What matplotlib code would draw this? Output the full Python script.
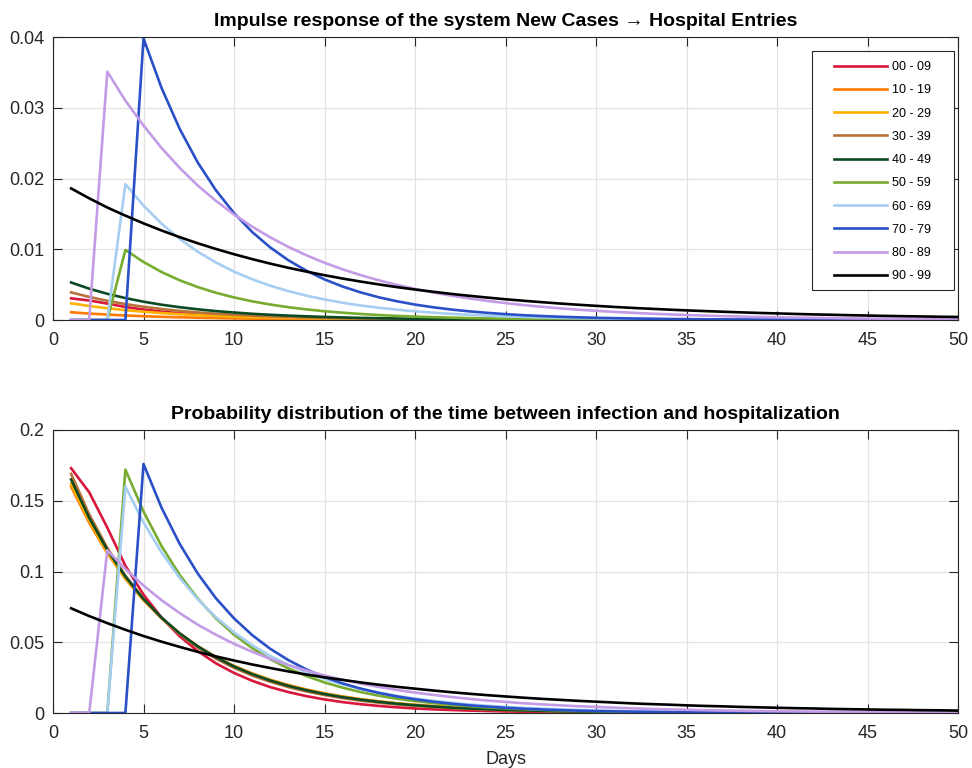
import matplotlib
matplotlib.use("Agg")
import matplotlib.pyplot as plt
from matplotlib.ticker import FuncFormatter, MultipleLocator
from matplotlib.patches import Rectangle

# ---------------- data ----------------
days = list(range(1, 51))
age_groups = ["00 - 09", "10 - 19", "20 - 29", "30 - 39", "40 - 49",
              "50 - 59", "60 - 69", "70 - 79", "80 - 89", "90 - 99"]

# Probability distribution of time between infection and hospitalization (bottom)
prob_00_09 = [0.173, 0.156, 0.131, 0.104, 0.0837, 0.0674, 0.0542, 0.0437, 0.0351, 0.0283,
              0.0228, 0.0183, 0.0148, 0.0119, 0.0096, 0.0077, 0.0062, 0.0050, 0.0040, 0.0032,
              0.0026, 0.0021, 0.0017, 0.0014, 0.0011, 0.0009, 0.0007, 0.0006, 0.00047, 0.00038,
              0.00031, 0.00025, 0.0002, 0.00016, 0.00013, 0.0001, 0.00008, 0.00007, 0.00005, 0.00004,
              0.00004, 0.00003, 0.00002, 0.00002, 0.00002, 0.00001, 0.00001, 0.00001, 0.00001, 0.00001]
prob_10_19 = [0.160, 0.1344, 0.1129, 0.0948, 0.0797, 0.0669, 0.0562, 0.0472, 0.0397, 0.0333,
              0.0280, 0.0235, 0.0198, 0.0166, 0.0139, 0.0117, 0.0098, 0.0083, 0.0069, 0.0058,
              0.0049, 0.0041, 0.00345, 0.0029, 0.00244, 0.00205, 0.00172, 0.00144, 0.00121, 0.00102,
              0.00086, 0.00072, 0.0006, 0.00051, 0.00043, 0.00036, 0.0003, 0.00025, 0.00021, 0.00018,
              0.00015, 0.00013, 0.00011, 0.00009, 0.00008, 0.00006, 0.00005, 0.00005, 0.00004, 0.00003]
prob_20_29 = [0.162, 0.1358, 0.1138, 0.0953, 0.0799, 0.0670, 0.0561, 0.0470, 0.0394, 0.0330,
              0.0277, 0.0232, 0.0194, 0.0163, 0.0136, 0.0114, 0.0096, 0.0080, 0.0067, 0.0056,
              0.0047, 0.0040, 0.0033, 0.0028, 0.0023, 0.00195, 0.00164, 0.00137, 0.00115, 0.00096,
              0.00081, 0.00068, 0.00057, 0.00047, 0.0004, 0.00033, 0.00028, 0.00023, 0.0002, 0.00016,
              0.00014, 0.00012, 0.0001, 0.00008, 0.00007, 0.00006, 0.00005, 0.00004, 0.00003, 0.00003]
prob_30_39 = [0.169, 0.1404, 0.1167, 0.0970, 0.0806, 0.0670, 0.0557, 0.0463, 0.0384, 0.0319,
              0.0265, 0.0221, 0.0183, 0.0152, 0.0127, 0.0105, 0.0087, 0.0073, 0.0060, 0.0050,
              0.0042, 0.0035, 0.0029, 0.0024, 0.0020, 0.00165, 0.00137, 0.00114, 0.00095, 0.00079,
              0.00065, 0.00054, 0.00045, 0.00037, 0.00031, 0.00026, 0.00022, 0.00018, 0.00015, 0.00012,
              0.0001, 0.00009, 0.00007, 0.00006, 0.00005, 0.00004, 0.00003, 0.00003, 0.00002, 0.00002]
prob_40_49 = [0.165, 0.1379, 0.1153, 0.0964, 0.0806, 0.0674, 0.0563, 0.0471, 0.0394, 0.0329,
              0.0275, 0.0230, 0.0192, 0.0161, 0.0134, 0.0112, 0.0094, 0.0079, 0.0066, 0.0055,
              0.0046, 0.0038, 0.0032, 0.0027, 0.0022, 0.00187, 0.00157, 0.00131, 0.0011, 0.00092,
              0.00077, 0.00064, 0.00053, 0.00045, 0.00037, 0.00031, 0.00026, 0.00022, 0.00018, 0.00015,
              0.00013, 0.00011, 0.00009, 0.00008, 0.00006, 0.00005, 0.00004, 0.00004, 0.00003, 0.00003]
prob_50_59 = [0.0, 0.0, 0.0, 0.172, 0.1424, 0.1179, 0.0976, 0.0809, 0.0669, 0.0554,
              0.0459, 0.0380, 0.0315, 0.0261, 0.0216, 0.0179, 0.0148, 0.0122, 0.0101, 0.0084,
              0.0070, 0.0058, 0.0048, 0.0039, 0.0033, 0.0027, 0.00224, 0.00185, 0.00154, 0.00127,
              0.00105, 0.00087, 0.00072, 0.0006, 0.0005, 0.00041, 0.00034, 0.00028, 0.00023, 0.00019,
              0.00016, 0.00013, 0.00011, 0.00009, 0.00008, 0.00006, 0.00005, 0.00004, 0.00004, 0.00003]
prob_60_69 = [0.0, 0.0, 0.0, 0.160, 0.1347, 0.1134, 0.0955, 0.0804, 0.0677, 0.0570,
              0.0480, 0.0404, 0.0340, 0.0287, 0.0241, 0.0203, 0.0171, 0.0144, 0.0121, 0.0102,
              0.0086, 0.0072, 0.0061, 0.0051, 0.0043, 0.00364, 0.00306, 0.00258, 0.00217, 0.00183,
              0.00154, 0.0013, 0.00109, 0.00092, 0.00077, 0.00065, 0.00055, 0.00046, 0.00039, 0.00033,
              0.00028, 0.00023, 0.0002, 0.00017, 0.00014, 0.00012, 0.0001, 0.00008, 0.00007, 0.00006]
prob_70_79 = [0.0, 0.0, 0.0, 0.0, 0.176, 0.1450, 0.1195, 0.0985, 0.0811, 0.0669,
              0.0551, 0.0454, 0.0374, 0.0308, 0.0254, 0.0209, 0.0172, 0.0142, 0.0117, 0.0097,
              0.0080, 0.0066, 0.0054, 0.0045, 0.0037, 0.0030, 0.0025, 0.00205, 0.00169, 0.00139,
              0.00115, 0.00095, 0.00078, 0.00064, 0.00053, 0.00044, 0.00036, 0.0003, 0.00024, 0.0002,
              0.00017, 0.00014, 0.00011, 0.00009, 0.00008, 0.00006, 0.00005, 0.00004, 0.00004, 0.00003]
prob_80_89 = [0.0, 0.0, 0.115, 0.1018, 0.0901, 0.0797, 0.0706, 0.0624, 0.0553, 0.0489,
              0.0433, 0.0383, 0.0339, 0.0300, 0.0265, 0.0235, 0.0208, 0.0184, 0.0163, 0.0144,
              0.0128, 0.0113, 0.0100, 0.0088, 0.0078, 0.0069, 0.0061, 0.0054, 0.0048, 0.0043,
              0.0038, 0.0033, 0.0029, 0.0026, 0.0023, 0.0020, 0.0018, 0.0016, 0.0014, 0.00125,
              0.00111, 0.00098, 0.00087, 0.00077, 0.00068, 0.0006, 0.00053, 0.00047, 0.00042, 0.00037]
prob_90_99 = [0.0740, 0.0685, 0.0635, 0.0588, 0.0544, 0.0504, 0.0467, 0.0432, 0.0400, 0.0371,
              0.0343, 0.0318, 0.0294, 0.0272, 0.0252, 0.0234, 0.0216, 0.0200, 0.0185, 0.0172,
              0.0159, 0.0147, 0.0136, 0.0126, 0.0117, 0.0108, 0.0100, 0.0093, 0.0086, 0.0080,
              0.0074, 0.0068, 0.0063, 0.0059, 0.0054, 0.0050, 0.0047, 0.0043, 0.0040, 0.0037,
              0.0034, 0.0032, 0.0029, 0.0027, 0.0025, 0.0023, 0.0022, 0.0020, 0.0019, 0.0017]

# Impulse response New Cases -> Hospital Entries (top)
imp_00_09 = [0.00306, 0.00276, 0.00232, 0.00184, 0.00148, 0.00119, 0.00096, 0.00077, 0.00062, 0.0005,
             0.0004, 0.00032, 0.00026, 0.00021, 0.00017, 0.00014, 0.00011, 0.00009, 0.00007, 0.00006,
             0.00005, 0.00004, 0.00003, 0.00002, 0.00002, 0.00002, 0.00001, 0.00001, 0.00001, 0.0,
             0.0, 0.0, 0.0, 0.0, 0.0, 0.0, 0.0, 0.0, 0.0, 0.0,
             0.0, 0.0, 0.0, 0.0, 0.0, 0.0, 0.0, 0.0, 0.0, 0.0]
imp_10_19 = [0.00109, 0.00091, 0.00077, 0.00064, 0.00054, 0.00045, 0.00038, 0.00032, 0.00027, 0.00023,
             0.00019, 0.00016, 0.00013, 0.00011, 0.00009, 0.00008, 0.00007, 0.00006, 0.00005, 0.00004,
             0.00003, 0.00003, 0.00002, 0.00002, 0.00002, 0.00001, 0.00001, 0.00001, 0.00001, 0.00001,
             0.0, 0.0, 0.0, 0.0, 0.0, 0.0, 0.0, 0.0, 0.0, 0.0,
             0.0, 0.0, 0.0, 0.0, 0.0, 0.0, 0.0, 0.0, 0.0, 0.0]
imp_20_29 = [0.00236, 0.00198, 0.00166, 0.00139, 0.00117, 0.00098, 0.00082, 0.00069, 0.00058, 0.00048,
             0.0004, 0.00034, 0.00028, 0.00024, 0.0002, 0.00017, 0.00014, 0.00012, 0.0001, 0.00008,
             0.00007, 0.00006, 0.00005, 0.00004, 0.00003, 0.00003, 0.00002, 0.00002, 0.00002, 0.00001,
             0.00001, 0.00001, 0.00001, 0.00001, 0.00001, 0.0, 0.0, 0.0, 0.0, 0.0,
             0.0, 0.0, 0.0, 0.0, 0.0, 0.0, 0.0, 0.0, 0.0, 0.0]
imp_30_39 = [0.0039, 0.00326, 0.00271, 0.00225, 0.00187, 0.00155, 0.00129, 0.00107, 0.00089, 0.00074,
             0.00062, 0.00051, 0.00043, 0.00035, 0.00029, 0.00024, 0.0002, 0.00017, 0.00014, 0.00012,
             0.0001, 0.00008, 0.00007, 0.00006, 0.00005, 0.00004, 0.00003, 0.00003, 0.00002, 0.00002,
             0.00002, 0.00001, 0.00001, 0.00001, 0.00001, 0.0, 0.0, 0.0, 0.0, 0.0,
             0.0, 0.0, 0.0, 0.0, 0.0, 0.0, 0.0, 0.0, 0.0, 0.0]
imp_40_49 = [0.0053, 0.00443, 0.0037, 0.0031, 0.00259, 0.00216, 0.00181, 0.00151, 0.00126, 0.00106,
             0.00088, 0.00074, 0.00062, 0.00052, 0.00043, 0.00036, 0.0003, 0.00025, 0.00021, 0.00018,
             0.00015, 0.00012, 0.0001, 0.00009, 0.00007, 0.00006, 0.00005, 0.00004, 0.00004, 0.00003,
             0.00002, 0.00002, 0.00002, 0.00001, 0.00001, 0.00001, 0.00001, 0.0, 0.0, 0.0,
             0.0, 0.0, 0.0, 0.0, 0.0, 0.0, 0.0, 0.0, 0.0, 0.0]
imp_50_59 = [0.0, 0.0, 0.0, 0.0099, 0.0082, 0.00678, 0.00561, 0.00465, 0.00385, 0.00319,
             0.00264, 0.00219, 0.00181, 0.0015, 0.00124, 0.00103, 0.00085, 0.0007, 0.00058, 0.00048,
             0.0004, 0.00033, 0.00027, 0.00023, 0.00019, 0.00016, 0.00013, 0.00011, 0.00009, 0.00007,
             0.00006, 0.00005, 0.00004, 0.00003, 0.00003, 0.00002, 0.00002, 0.00002, 0.00001, 0.00001,
             0.00001, 0.00001, 0.00001, 0.0, 0.0, 0.0, 0.0, 0.0, 0.0, 0.0]
imp_60_69 = [0.0, 0.0, 0.0, 0.0192, 0.01617, 0.01361, 0.01146, 0.00965, 0.00813, 0.00684,
             0.00576, 0.00485, 0.00408, 0.00344, 0.0029, 0.00244, 0.00205, 0.00173, 0.00146, 0.00123,
             0.00103, 0.00087, 0.00073, 0.00062, 0.00052, 0.00044, 0.00037, 0.00031, 0.00026, 0.00022,
             0.00018, 0.00016, 0.00013, 0.00011, 0.00009, 0.00008, 0.00007, 0.00006, 0.00005, 0.00004,
             0.00003, 0.00003, 0.00002, 0.00002, 0.00002, 0.00001, 0.00001, 0.00001, 0.00001, 0.00001]
imp_70_79 = [0.0, 0.0, 0.0, 0.0, 0.0398, 0.03278, 0.02701, 0.02225, 0.01834, 0.01511,
             0.01245, 0.01026, 0.00845, 0.00697, 0.00574, 0.00473, 0.0039, 0.00321, 0.00265, 0.00218,
             0.0018, 0.00148, 0.00122, 0.00101, 0.00083, 0.00068, 0.00056, 0.00046, 0.00038, 0.00031,
             0.00026, 0.00021, 0.00018, 0.00014, 0.00012, 0.0001, 0.00008, 0.00007, 0.00005, 0.00005,
             0.00004, 0.00003, 0.00003, 0.00002, 0.00002, 0.00001, 0.00001, 0.00001, 0.00001, 0.00001]
imp_80_89 = [0.0, 0.0, 0.0351, 0.0310, 0.0275, 0.0243, 0.0215, 0.0190, 0.01685, 0.01491,
             0.0132, 0.01168, 0.01034, 0.00915, 0.00809, 0.00716, 0.00634, 0.00561, 0.00497, 0.0044,
             0.00389, 0.00344, 0.00305, 0.0027, 0.00239, 0.00211, 0.00187, 0.00165, 0.00146, 0.0013,
             0.00115, 0.00102, 0.0009, 0.0008, 0.0007, 0.00062, 0.00055, 0.00049, 0.00043, 0.00038,
             0.00034, 0.0003, 0.00027, 0.00023, 0.00021, 0.00018, 0.00016, 0.00014, 0.00013, 0.00011]
imp_90_99 = [0.0186, 0.0172, 0.0159, 0.01475, 0.01366, 0.01265, 0.01171, 0.01084, 0.01004, 0.0093,
             0.00861, 0.00797, 0.00738, 0.00684, 0.00633, 0.00586, 0.00543, 0.00503, 0.00465, 0.00431,
             0.00399, 0.00369, 0.00342, 0.00317, 0.00293, 0.00272, 0.00252, 0.00233, 0.00216, 0.002,
             0.00185, 0.00171, 0.00159, 0.00147, 0.00136, 0.00126, 0.00117, 0.00108, 0.001, 0.00093,
             0.00086, 0.00079, 0.00074, 0.00068, 0.00063, 0.00058, 0.00054, 0.0005, 0.00046, 0.00043]

impulse_series = [imp_00_09, imp_10_19, imp_20_29, imp_30_39, imp_40_49,
                  imp_50_59, imp_60_69, imp_70_79, imp_80_89, imp_90_99]
prob_series = [prob_00_09, prob_10_19, prob_20_29, prob_30_39, prob_40_49,
               prob_50_59, prob_60_69, prob_70_79, prob_80_89, prob_90_99]

colors = ["#D9163C", "#FF7A00", "#FFB200", "#B8733A", "#0B4A22",
          "#77AC30", "#A5CEF2", "#2A50C8", "#C49BE6", "#000000"]

# ---------------- style ----------------
plt.rcParams['font.family'] = ['Liberation Sans', 'DejaVu Sans']
TXT = "#262626"
W, H = 972, 768

fig = plt.figure(figsize=(9.72, 7.68), dpi=100)
ax1 = fig.add_axes([53/W, 1-320/H, 905/W, 283/H])
ax2 = fig.add_axes([53/W, 1-713/H, 905/W, 283/H])


def fmt(v, pos):
    return "%g" % round(v, 6)


def style(ax, ymax, ystep):
    ax.set_xlim(0, 50)
    ax.set_ylim(0, ymax)
    ax.xaxis.set_major_locator(MultipleLocator(5))
    ax.yaxis.set_major_locator(MultipleLocator(ystep))
    ax.yaxis.set_major_formatter(FuncFormatter(fmt))
    ax.grid(True, color="#E3E3E3", linewidth=0.9)
    ax.set_axisbelow(True)
    ax.tick_params(direction="in", length=6.5, width=0.8, top=True, right=True,
                   labelsize=13, colors=TXT)
    ax.tick_params(axis="y", pad=6)
    ax.tick_params(axis="x", pad=8.5)
    for s in ax.spines.values():
        s.set_color(TXT)
        s.set_linewidth(0.8)


for ser, lab, c in zip(impulse_series, age_groups, colors):
    ax1.plot(days, ser, color=c, lw=1.9, label=lab)
for ser, lab, c in zip(prob_series, age_groups, colors):
    ax2.plot(days, ser, color=c, lw=1.9, label=lab)

style(ax1, 0.04, 0.01)
style(ax2, 0.2, 0.05)

ax1.set_title("Impulse response of the system New Cases \u2192 Hospital Entries",
              fontsize=14, fontweight="bold", pad=8)
ax2.set_title("Probability distribution of the time between infection and hospitalization",
              fontsize=14, fontweight="bold", pad=8)
ax2.set_xlabel("Days", fontsize=13, color=TXT, labelpad=6.5)

# legend frame drawn as a box (pixel extents of the reference box)
def px_to_ax(px, py):
    return (px - 53) / 905, (320 - py) / 283

bx0, by0 = px_to_ax(812, 290)
bx1, by1 = px_to_ax(954, 51)
ax1.add_patch(Rectangle((bx0, by0), bx1 - bx0, by1 - by0, transform=ax1.transAxes,
                        facecolor="white", edgecolor=TXT, linewidth=0.8, zorder=4))
lx, ly = px_to_ax(834, 61)
leg = ax1.legend(loc="upper left", bbox_to_anchor=(lx, ly), borderaxespad=0,
                 fontsize=9, handlelength=4.2, handletextpad=0.45, labelspacing=0.9,
                 frameon=False, borderpad=0)
leg.set_zorder(5)

fig.savefig("out.png", dpi=100, facecolor="white")
